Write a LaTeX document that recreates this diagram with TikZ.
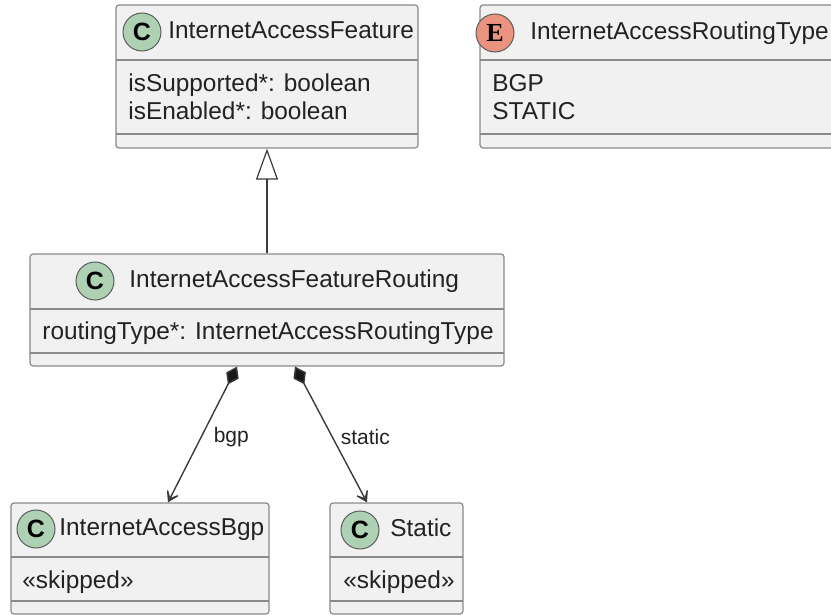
\documentclass[tikz,border=0pt]{standalone}
\usepackage{fontspec}
\setmainfont{Liberation Sans}
\newfontfamily\badgeserif{Liberation Serif}
\usetikzlibrary{arrows.meta,fit,calc,positioning}

\definecolor{umlfill}{HTML}{F1F1F1}
\definecolor{umlline}{HTML}{8A8A8A}
\definecolor{umldark}{HTML}{181818}
\definecolor{umltext}{HTML}{222222}
\definecolor{classgreen}{HTML}{ADD1B2}
\definecolor{enumred}{HTML}{EB937F}

\tikzset{
  umlbox/.style={draw=umlline, fill=umlfill, line width=0.6pt, rounded corners=1.5pt, inner sep=0pt},
  sepline/.style={draw=umlline, line width=0.6pt},
  badge/.style={circle, draw=umldark!70, line width=0.5pt, minimum size=19pt, inner sep=0pt},
  classbadge/.style={badge, fill=classgreen, font=\fontsize{12.5}{14}\selectfont\bfseries},
  enumbadge/.style={badge, fill=enumred, font=\fontsize{13}{14}\selectfont\badgeserif\bfseries},
  umltxt/.style={anchor=west, inner sep=0pt, text=umltext, text height=1.6ex, text depth=.4ex, font=\fontsize{12.2}{14}\selectfont},
  linklbl/.style={anchor=west, inner sep=0pt, text=umltext, font=\fontsize{10.5}{12}\selectfont},
  inherit/.style={draw=umldark!85, line width=0.7pt, -{Triangle[length=15.5pt,width=11pt,fill=white,line width=0.6pt]}},
  compose/.style={draw=umldark!85, line width=0.7pt,
    {Diamond[length=10pt,width=7pt,fill=umldark]}-{Stealth[length=8pt,width=10pt,inset=5.5pt,fill=umldark!85]}}
}

\begin{document}
\begin{tikzpicture}[x=0.5pt,y=-0.5pt]
\useasboundingbox (0,0) rectangle (831,615);

% InternetAccessFeature
\node[umlbox, fit={(116,5) (418,148)}] (feat) {};
\draw[sepline] (116,60) -- (418,60);
\draw[sepline] (116,134) -- (418,134);
\node[classbadge] (featbadge) at (142,32) {C};
\node[umltxt] (feattitle) at (168,32) {InternetAccessFeature};
\node[umltxt] (featm1) at (128,85) {isSupported*: boolean};
\node[umltxt] (featm2) at (128,113) {isEnabled*: boolean};

% InternetAccessRoutingType
\node[umlbox, fit={(480,5) (838,148)}] (rtype) {};
\draw[sepline] (480,60) -- (838,60);
\draw[sepline] (480,134) -- (838,134);
\node[enumbadge] (rtypebadge) at (495,33) {E};
\node[umltxt] (rtypetitle) at (530,33) {InternetAccessRoutingType};
\node[umltxt] (rtypem1) at (492,85) {BGP};
\node[umltxt] (rtypem2) at (492,113) {STATIC};

% InternetAccessFeatureRouting
\node[umlbox, fit={(30,254) (504,366)}] (routing) {};
\draw[sepline] (30,309) -- (504,309);
\draw[sepline] (30,353) -- (504,353);
\node[classbadge] (routingbadge) at (95,281) {C};
\node[umltxt] (routingtitle) at (129,281) {InternetAccessFeatureRouting};
\node[umltxt] (routingm1) at (42,333) {routingType*: InternetAccessRoutingType};

% InternetAccessBgp
\node[umlbox, fit={(11,503) (269,614)}] (bgp) {};
\draw[sepline] (11,557) -- (269,557);
\draw[sepline] (11,601) -- (269,601);
\node[classbadge] (bgpbadge) at (36,529) {C};
\node[umltxt] (bgptitle) at (59,529) {InternetAccessBgp};
\node[umltxt] (bgpm1) at (22,582) {«skipped»};

% Static
\node[umlbox, fit={(330,503) (463,614)}] (static) {};
\draw[sepline] (330,557) -- (463,557);
\draw[sepline] (330,601) -- (463,601);
\node[classbadge] (staticbadge) at (360,530) {C};
\node[umltxt] (statictitle) at (390,530) {Static};
\node[umltxt] (staticm1) at (343,582) {«skipped»};

% links
\draw[inherit] (routing.north) -- (feat.south);
\draw[compose] ($(routing.south)+(-30,0)$) -- ($(bgp.north)+(28,0)$)
  node[linklbl, pos=0.52, xshift=6pt] (bgplbl) {bgp};
\draw[compose] ($(routing.south)+(28,0)$) -- ($(static.north)+(-29.5,0)$)
  node[linklbl, pos=0.515, xshift=4pt] (staticlbl) {static};
\end{tikzpicture}
\end{document}
